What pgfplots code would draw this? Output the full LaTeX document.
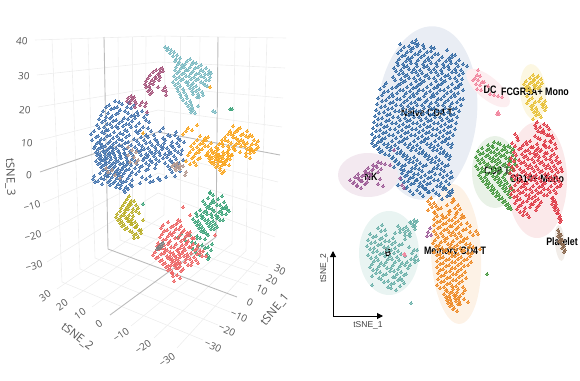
\documentclass[border=0pt]{standalone}
\usepackage{pgfplots}
\pgfplotsset{compat=1.18}
\usepackage{fontspec}
\setmainfont{Liberation Sans}
\newfontfamily\os{Open Sans}
\usetikzlibrary{arrows.meta}
\definecolor{gl}{HTML}{EDEDED}
\definecolor{zl}{HTML}{BBBBBB}
\definecolor{tk}{HTML}{555555}
\pgfplotsset{g/.style={gl,line width=0.6pt},z/.style={zl,line width=0.9pt},
 p/.style={color=#1,only marks,mark=*,mark size=1.05pt,mark options={solid,draw=#1,fill=#1,line width=0pt}}}
\tikzset{tl/.style={font=\os\fontsize{10}{12}\selectfont,text=tk,inner sep=0pt},
 lb/.style={font=\bfseries\fontsize{10.8}{12}\selectfont,text=black,inner sep=0pt,xscale=0.82}}
\newcommand{\elli}[6]{\fill[fill=#1,rotate around={#6:(axis cs:#2,#3)}] (axis cs:#2,#3) ellipse [x radius=#4pt,y radius=#5pt];}
\definecolor{eA}{HTML}{E9EDF4}\definecolor{eB}{HTML}{F3E9F0}\definecolor{eC}{HTML}{E9F4F2}\definecolor{eD}{HTML}{FDF2E6}\definecolor{eE}{HTML}{E9F2E7}\definecolor{eF}{HTML}{FBE9EA}\definecolor{eG}{HTML}{FCF7E2}\definecolor{eH}{HTML}{FDEEF0}\definecolor{eI}{HTML}{F2EDE9}
\definecolor{lBlue}{HTML}{4A78B0}\definecolor{lTeal}{HTML}{7FBCC4}\definecolor{lPur}{HTML}{A85A80}\definecolor{lOr}{HTML}{F9A825}\definecolor{lTan}{HTML}{B59A90}\definecolor{lYel}{HTML}{BCB12C}\definecolor{lGrn}{HTML}{45A880}\definecolor{lRed}{HTML}{EE6A6A}
\definecolor{rBlue}{HTML}{3B70A8}\definecolor{rPur}{HTML}{A0609A}\definecolor{rTeal}{HTML}{6FB3AC}\definecolor{rOr}{HTML}{EE8C2A}\definecolor{rGrn}{HTML}{4A9A43}\definecolor{rRed}{HTML}{E0404C}\definecolor{rYel}{HTML}{E8C23C}\definecolor{rPnk}{HTML}{F288A0}\definecolor{rBrn}{HTML}{8B6A50}
\begin{document}
\begin{tikzpicture}
\path[use as bounding box] (0,0) rectangle (580pt,380pt);
\begin{axis}[at={(0,0)},anchor=south west,scale only axis,width=580pt,height=380pt,xmin=0,xmax=580,ymin=0,ymax=380,y dir=reverse,axis lines=none,clip=false]
\addplot[g] coordinates {(35,40)(158,36)(286,38)};
\addplot[g] coordinates {(37,75)(158,62)(285,68)};
\addplot[g] coordinates {(38,107)(158,87)(283,98)};
\addplot[g] coordinates {(40,140)(158,110)(282,127)};
\addplot[g] coordinates {(43,203)(158,153)(278,182)};
\addplot[g] coordinates {(45,233)(158,173)(276,210)};
\addplot[g] coordinates {(47,262)(158,193)(275,237)};
\addplot[g] coordinates {(146,37)(145,221)};
\addplot[g] coordinates {(132,37)(132,231)};
\addplot[g] coordinates {(118,37)(120,240)};
\addplot[g] coordinates {(88,38)(95,258)};
\addplot[g] coordinates {(71,38)(80,269)};
\addplot[g] coordinates {(52,39)(62,282)};
\addplot[g] coordinates {(165,36)(164,215)};
\addplot[g] coordinates {(180,36)(180,222)};
\addplot[g] coordinates {(200,37)(198,230)};
\addplot[g] coordinates {(235,37)(232,244)};
\addplot[g] coordinates {(250,37)(246,251)};
\addplot[g] coordinates {(267,38)(260,257)};
\addplot[g] coordinates {(57,289)(164,215)};
\addplot[g] coordinates {(73,298)(180,222)};
\addplot[g] coordinates {(92,307)(198,230)};
\addplot[g] coordinates {(131,326)(232,244)};
\addplot[g] coordinates {(154,338)(246,251)};
\addplot[g] coordinates {(177,348)(260,257)};
\addplot[g] coordinates {(268,267)(145,221)};
\addplot[g] coordinates {(260,275)(132,231)};
\addplot[g] coordinates {(248,285)(120,240)};
\addplot[g] coordinates {(230,312)(95,258)};
\addplot[g] coordinates {(218,325)(80,269)};
\addplot[g] coordinates {(203,340)(62,282)};
\addplot[z] coordinates {(40,172)(158,132)(280,155)};
\addplot[z] coordinates {(104,37)(108,249)};
\addplot[z] coordinates {(218,37)(216,237)};
\addplot[z] coordinates {(110,315)(216,237)};
\addplot[z] coordinates {(108,249)(237,297)};
\node[tl,rotate=-5] at (axis cs:22,41) {40};
\node[tl,rotate=-5] at (axis cs:24,76) {30};
\node[tl,rotate=-5] at (axis cs:25,110) {20};
\node[tl,rotate=-5] at (axis cs:27,143) {10};
\node[tl,rotate=-5] at (axis cs:29,175) {0};
\node[tl,rotate=15] at (axis cs:32,206) {−10};
\node[tl,rotate=15] at (axis cs:33,236) {−20};
\node[tl,rotate=15] at (axis cs:34,266) {−30};
\node[tl,rotate=35] at (axis cs:45,296) {30};
\node[tl,rotate=35] at (axis cs:62,305) {20};
\node[tl,rotate=35] at (axis cs:80,314) {10};
\node[tl,rotate=35] at (axis cs:99,324) {0};
\node[tl,rotate=35] at (axis cs:121,335) {−10};
\node[tl,rotate=35] at (axis cs:143,347) {−20};
\node[tl,rotate=35] at (axis cs:167,360) {−30};
\node[tl,rotate=-25] at (axis cs:280,270) {30};
\node[tl,rotate=-25] at (axis cs:272,280) {20};
\node[tl,rotate=-25] at (axis cs:262,290) {10};
\node[tl,rotate=-25] at (axis cs:250,302) {0};
\node[tl,rotate=-25] at (axis cs:239,316) {−10};
\node[tl,rotate=-25] at (axis cs:227,330) {−20};
\node[tl,rotate=-25] at (axis cs:213,346) {−30};
\node[tl,rotate=-88,font=\os\fontsize{11.5}{13}\selectfont] at (axis cs:10,177) {tSNE\_3};
\node[tl,rotate=-38,font=\os\fontsize{11.5}{13}\selectfont] at (axis cs:77,337) {tSNE\_2};
\node[tl,rotate=50,font=\os\fontsize{11.5}{13}\selectfont] at (axis cs:275,310) {tSNE\_1};
% left clusters
\addplot[p=lBlue] table {
115 101
109 105
119 102
129 103
106 107
114 108
122 104
127 107
134 105
103 111
111 109
117 107
125 111
131 108
137 112
108 113
116 114
120 110
128 113
134 115
142 111
147 114
101 115
106 117
112 116
118 113
124 118
131 116
138 115
144 117
99 119
105 120
110 118
116 120
122 121
128 119
135 118
146 120
102 122
107 124
113 121
119 123
126 124
132 121
139 123
149 122
97 125
104 127
110 124
116 126
123 126
129 124
136 126
143 127
99 128
106 130
112 127
118 128
125 130
131 127
140 130
148 128
94 131
102 132
108 130
114 132
120 133
127 131
136 131
143 133
151 131
163 128
176 132
91 134
98 136
104 133
110 135
117 136
123 134
129 135
138 133
146 135
154 135
160 131
168 135
175 135
96 137
101 139
107 136
113 138
119 139
126 137
134 139
141 137
148 137
155 139
163 138
170 136
178 138
92 140
99 142
104 139
110 141
116 142
122 140
128 142
137 141
144 140
150 142
157 141
165 140
172 142
180 140
97 143
102 145
108 143
113 144
119 145
125 143
131 145
139 144
146 143
152 145
158 144
164 143
171 145
177 143
184 142
95 146
100 148
105 146
110 147
116 148
122 146
127 148
135 147
142 146
148 148
155 147
161 146
167 148
173 147
179 146
98 149
103 151
108 149
113 150
118 151
124 149
130 151
137 150
144 149
150 151
156 150
162 149
169 151
175 150
182 150
96 152
100 154
104 152
109 153
114 154
119 152
125 154
131 153
139 152
146 154
152 153
159 152
165 154
171 153
178 152
97 155
101 157
105 155
110 156
115 157
120 155
126 157
133 156
141 155
147 157
154 156
160 155
167 157
174 156
181 154
99 158
103 160
107 158
111 159
116 160
121 158
127 160
132 159
144 158
150 160
156 159
163 158
170 160
176 159
96 161
100 163
105 161
109 162
113 163
118 161
123 163
128 162
135 161
146 163
152 162
159 161
165 163
172 162
183 160
98 164
102 166
106 164
111 165
115 166
120 164
125 166
131 165
137 164
142 166
149 165
156 164
168 166
175 165
179 163
101 167
105 169
109 167
113 168
118 169
123 167
129 169
135 168
140 167
148 169
155 168
170 169
177 167
103 170
107 172
111 170
116 171
120 172
126 170
132 172
139 171
146 170
172 172
180 171
100 173
105 175
110 173
114 174
119 175
124 173
130 175
136 174
94 176
101 178
107 176
112 177
117 178
122 176
128 178
142 177
150 176
158 178
166 177
175 176
93 179
98 181
104 179
110 180
115 181
120 179
126 181
132 180
146 179
153 181
160 180
95 182
102 184
108 182
113 183
118 184
123 182
130 184
140 183
150 182
110 185
116 187
121 185
126 187
132 186
120 188
124 190
128 189
125 192
103 147
106 151
112 152
101 160
104 165
108 155
112 147
116 162
120 157
124 153
128 147
127 164
122 169
117 173
112 169
108 176
121 181
98 153
105 158
100 143
94 148
141 150
148 155
155 153
163 147
169 154
143 160
};
\addplot[p=lTeal] table {
165 47
168 48
167 50
171 50
170 53
174 52
173 56
177 55
176 59
180 58
175 61
179 62
190 59
193 62
178 64
182 65
187 61
192 64
196 63
176 67
181 68
185 64
190 67
195 68
201 65
175 70
179 71
184 67
188 70
193 71
198 67
203 71
206 68
177 73
182 74
186 70
191 73
196 74
201 70
205 74
209 71
174 76
179 77
184 73
189 76
194 77
199 73
204 77
208 74
211 73
176 79
181 80
186 76
191 79
196 80
201 76
206 80
210 77
173 82
178 83
183 79
188 82
193 83
198 79
203 83
209 80
175 85
180 86
186 82
191 85
196 86
201 82
207 86
177 88
183 89
188 85
193 88
199 89
205 85
178 91
184 92
190 88
196 91
202 92
180 94
186 95
192 91
198 94
203 95
181 97
187 98
193 94
199 97
183 100
190 101
197 97
186 103
191 104
188 106
192 107
190 109
193 110
198 106
191 112
195 113
213 111
215 112
};
\addplot[p=lPur] table {
162 68
160 69
156 70
160 72
153 72
158 74
163 71
150 75
155 77
159 75
148 78
152 80
156 78
160 77
146 81
150 83
154 81
159 80
145 84
149 86
153 84
146 87
150 89
158 87
165 87
148 91
152 92
163 90
166 91
150 94
166 95
131 96
133 98
128 98
131 100
134 97
127 101
130 103
135 101
142 102
136 103
146 103
140 105
135 107
145 106
147 112
};
\addplot[p=lOr] table {
197 125
188 128
192 130
233 126
238 129
186 131
230 131
235 132
240 128
247 131
183 134
228 134
233 135
237 131
243 134
250 135
200 136
205 138
225 137
231 134
236 138
241 135
246 136
252 136
197 140
203 141
208 137
222 140
228 141
233 137
238 140
243 141
248 137
254 140
194 143
200 144
206 140
211 143
219 144
225 140
231 143
236 144
241 140
247 143
252 144
258 141
191 146
197 147
203 143
208 146
216 147
222 143
228 146
233 147
239 143
245 146
250 147
256 144
193 149
199 150
205 146
211 149
217 150
223 146
229 149
235 150
241 146
247 149
252 150
258 147
190 152
196 153
202 149
208 152
213 153
218 149
223 152
228 153
234 149
240 152
246 153
251 150
256 149
188 155
194 156
199 152
206 155
210 156
214 152
218 155
222 156
227 152
232 155
246 156
250 153
254 152
192 158
198 159
208 155
212 158
216 159
219 155
223 158
227 159
231 155
250 158
186 161
194 162
200 158
210 161
214 162
217 158
221 161
224 162
228 158
190 164
196 165
214 164
218 165
221 161
225 164
229 165
216 167
220 168
224 164
220 170
224 171
222 173
143 133
210 87
212 151
216 153
220 157
224 154
226 161
212 163
219 160
230 159
215 156
222 165
218 162
209 158
228 156
234 146
244 143
250 150
};
\addplot[p=lTan] table {
177 163
174 164
180 165
176 165
172 166
178 167
175 168
180 169
183 166
176 170
186 172
185 175
128 147
132 150
136 152
128 155
134 157
138 160
130 162
136 163
106 168
112 170
108 172
115 175
120 178
};
\addplot[p=lYel] table {
129 196
127 199
131 201
125 202
129 204
134 201
123 205
127 207
131 204
136 205
121 208
125 210
129 206
133 209
138 208
120 211
124 213
128 209
132 212
136 211
117 214
121 216
125 212
129 215
133 216
139 213
116 217
120 219
124 215
128 218
132 219
118 220
122 222
126 218
130 221
135 222
143 220
120 223
124 225
128 221
132 224
137 225
122 226
127 228
131 224
136 227
125 229
130 231
135 227
139 230
132 232
136 234
141 230
134 235
138 237
141 233
134 238
};
\addplot[p=lGrn] table {
210 193
213 195
208 198
213 200
222 196
203 201
211 203
218 199
224 202
205 204
209 206
214 202
220 205
226 206
207 207
212 209
217 205
222 208
227 209
200 210
204 212
209 208
214 211
219 212
224 208
229 211
196 213
201 215
206 211
211 214
216 215
221 211
226 214
197 216
202 218
207 214
212 217
217 218
222 214
193 219
198 221
203 217
208 220
213 221
218 217
223 220
195 222
200 224
205 220
210 223
215 224
220 220
197 225
202 227
207 223
212 226
217 227
199 228
204 230
209 226
214 229
201 231
206 233
211 229
181 234
197 236
203 232
208 235
178 237
184 239
190 235
200 238
205 239
185 240
192 242
197 238
195 243
202 245
198 246
205 248
212 244
193 249
203 251
208 247
196 252
207 254
211 250
200 255
209 257
208 259
143 204
210 192
230 109
232 109
};
\addplot[p=lRed] table {
178 220
168 222
176 224
180 221
163 225
171 227
177 223
181 226
161 228
167 230
173 226
179 229
184 230
164 231
170 233
176 229
182 232
187 233
162 234
168 236
174 232
180 235
186 236
190 232
160 237
166 239
172 235
178 238
184 239
189 235
194 238
163 240
169 242
175 238
181 241
187 242
192 238
158 243
164 245
170 241
176 244
182 245
188 241
193 244
198 245
157 246
162 248
168 244
174 247
180 248
186 244
191 247
197 248
159 249
165 251
171 247
177 250
183 251
189 247
195 250
200 251
155 252
161 254
167 250
173 253
179 254
185 250
191 253
197 254
203 251
153 255
158 257
164 253
170 256
176 257
182 253
188 256
194 257
200 253
206 256
156 258
162 260
167 256
172 259
178 260
184 256
190 259
196 260
202 256
160 261
165 263
170 259
175 262
180 263
186 259
192 262
198 263
163 264
168 266
172 262
176 265
180 266
185 262
191 265
166 267
170 269
174 265
178 268
183 269
188 265
168 270
172 272
176 268
181 271
172 273
177 275
173 276
180 278
174 281
183 207
190 215
215 235
170 252
174 255
178 251
168 258
176 259
173 261
180 257
165 249
184 248
187 254
171 265
178 263
};
\addplot[p=gray] table {
157 249
159 246
161 244
163 243
160 248
158 247
162 246
};
% ellipses
\elli{eA}{427}{113}{50}{87}{-5}
\elli{eB}{368}{175}{30}{22}{0}
\elli{eC}{389}{253}{30}{42}{0}
\elli{eD}{456}{254}{25}{70}{3}
\elli{eE}{495}{172}{23}{36}{0}
\elli{eF}{537}{180}{30}{58}{0}
\elli{eG}{533}{92}{13}{28}{5}
\elli{eH}{488}{88}{27}{11}{-40}
\elli{eI}{560}{243}{5}{18}{5}
% right clusters
\addplot[p=rBlue] table {
416 40
412 42
418 44
400 44
409 46
415 43
423 45
404 47
411 49
417 46
424 48
431 47
401 50
407 52
413 48
420 51
427 52
434 48
447 50
398 53
405 55
411 51
418 54
424 55
431 51
438 54
452 55
402 56
408 58
415 54
421 57
428 58
435 54
442 57
449 58
455 55
399 59
406 61
412 57
418 60
425 61
432 57
439 60
446 61
452 57
459 60
397 62
403 64
410 60
416 63
423 64
429 60
436 63
443 64
450 60
456 63
463 64
398 65
404 67
411 63
417 66
424 67
431 63
437 66
444 67
451 63
458 66
394 68
401 70
407 66
414 69
420 70
427 66
434 69
441 70
448 66
455 69
461 70
467 66
396 71
403 73
409 69
416 72
422 73
429 69
436 72
442 73
449 69
456 72
463 73
399 74
405 76
412 72
418 75
425 76
431 72
438 75
445 76
452 72
459 75
393 77
401 79
407 75
414 78
420 79
427 75
434 78
441 79
448 75
455 78
462 79
395 80
403 82
409 78
416 81
422 82
429 78
436 81
443 82
450 78
457 81
386 83
398 85
405 81
411 84
418 85
424 81
431 84
438 85
445 81
452 84
459 85
384 86
392 88
400 84
407 87
413 88
420 84
427 87
434 88
441 84
448 87
455 88
461 84
380 89
388 91
396 87
403 90
410 91
416 87
423 90
430 91
437 87
444 90
451 91
458 87
384 92
392 94
400 90
406 93
413 94
419 90
426 93
433 94
440 90
447 93
454 94
463 90
382 95
389 97
397 93
404 96
410 97
417 93
424 96
431 97
437 93
444 96
451 97
458 93
378 98
386 100
393 96
400 99
407 100
414 96
420 99
427 100
434 96
441 99
448 100
455 96
463 99
382 101
390 103
397 99
404 102
411 103
418 99
425 102
431 103
438 99
445 102
452 103
460 99
377 104
385 106
393 102
401 105
408 106
415 102
422 105
429 106
436 102
443 105
450 106
457 102
381 107
388 109
396 105
403 108
410 109
417 105
424 108
431 109
438 105
445 108
453 109
461 105
376 110
384 112
392 108
399 111
406 112
413 108
420 111
427 112
434 108
441 111
448 112
456 108
379 113
387 115
395 111
402 114
409 115
416 111
423 114
430 115
437 111
444 114
451 115
459 111
375 116
382 118
390 114
398 117
405 118
412 114
419 117
426 118
433 114
440 117
447 118
454 114
378 119
386 121
393 117
400 120
407 121
414 117
421 120
428 121
435 117
442 120
449 121
457 117
374 122
381 124
389 120
396 123
403 124
410 120
417 123
424 124
431 120
438 123
445 124
452 120
377 125
384 127
392 123
399 126
406 127
413 123
420 126
427 127
434 123
441 126
448 127
456 123
373 128
380 130
387 126
395 129
402 130
409 126
416 129
423 130
430 126
437 129
444 130
451 126
376 131
383 133
390 129
398 132
405 133
412 129
419 132
426 133
433 129
440 132
447 133
455 129
372 134
379 136
386 132
393 135
401 136
408 132
415 135
422 136
429 132
436 135
443 136
450 132
375 137
382 139
389 135
396 138
404 139
411 135
418 138
425 139
432 135
439 138
446 139
453 135
373 140
378 142
385 138
392 141
399 142
407 138
414 141
421 142
428 138
435 141
442 142
449 138
372 143
376 145
381 141
388 144
395 145
402 141
410 144
417 145
424 141
431 144
438 145
445 141
452 144
374 146
379 148
384 144
391 147
398 148
405 144
413 147
420 148
427 144
434 147
441 148
448 144
378 149
382 151
387 147
394 150
401 151
408 147
416 150
423 151
430 147
437 150
444 151
451 147
380 152
385 154
390 150
397 153
404 154
411 150
419 153
426 154
433 150
440 153
447 154
389 155
393 157
400 153
407 156
414 157
422 153
429 156
436 157
443 153
450 156
392 158
396 160
403 156
410 159
417 160
425 156
432 159
439 160
446 156
395 161
399 163
406 159
413 162
420 163
428 159
435 162
442 163
449 159
398 164
402 166
409 162
416 165
423 166
431 162
438 165
445 166
394 167
401 169
405 165
412 168
419 169
426 165
434 168
441 169
448 165
404 170
408 172
415 168
422 171
429 172
437 168
444 171
451 172
402 173
407 175
411 171
418 174
425 175
432 171
440 174
447 175
405 176
410 178
414 174
421 177
428 178
435 174
443 177
450 178
401 179
408 181
413 177
417 180
424 181
431 177
438 180
446 181
452 177
404 182
411 184
416 180
420 183
427 184
434 180
441 183
449 184
398 185
407 187
414 183
419 186
423 187
430 183
437 186
444 187
406 188
417 190
422 186
426 189
433 190
440 186
446 189
452 190
410 191
420 193
425 189
429 192
436 193
443 189
449 192
413 194
423 196
428 192
439 195
447 196
452 192
431 198
442 199
450 195
};
\addplot[p=rOr] table {
431 198
453 199
428 201
434 203
454 200
430 204
436 206
452 202
458 205
432 207
438 209
447 205
455 208
460 209
428 210
434 212
441 208
449 211
457 212
435 213
442 215
450 211
456 214
462 215
437 216
443 218
449 214
455 217
461 218
434 219
440 221
446 217
452 220
458 221
464 217
437 222
443 224
449 220
455 223
461 224
434 225
440 227
446 223
452 226
458 227
467 223
438 228
444 230
450 226
456 229
463 230
470 226
434 231
441 233
447 229
453 232
459 233
466 229
476 231
436 234
443 236
449 232
455 235
461 236
470 232
478 234
438 237
445 239
451 235
457 238
464 239
473 235
435 240
441 242
447 238
453 241
460 242
467 238
433 243
439 245
445 241
451 244
457 245
463 241
470 244
436 246
442 248
448 244
454 247
460 248
466 244
473 247
438 249
444 251
450 247
456 250
462 251
469 247
480 249
434 252
440 254
446 250
452 253
458 254
464 250
472 253
437 255
443 257
449 253
455 256
461 257
468 253
440 258
446 260
452 256
458 259
464 260
470 256
437 261
443 263
449 259
455 262
461 263
467 259
440 264
446 266
452 262
458 265
464 266
471 262
437 267
443 269
449 265
455 268
461 269
468 265
440 270
446 272
452 268
458 271
465 272
438 273
444 275
450 271
456 274
462 275
441 276
447 278
453 274
459 277
466 278
438 279
444 281
450 277
456 280
462 281
441 282
447 284
453 280
459 283
437 285
444 287
450 283
456 286
463 287
440 288
446 290
452 286
458 289
465 290
447 291
450 293
453 289
457 292
463 293
444 294
449 296
452 292
456 295
460 296
446 297
450 299
454 295
458 298
464 299
447 300
451 302
455 298
459 301
468 302
448 303
452 305
456 301
460 304
450 306
454 308
458 304
453 309
457 311
};
\addplot[p=rTeal] table {
414 220
416 222
410 222
413 224
417 221
382 225
406 227
411 223
415 226
378 228
385 230
398 226
403 229
408 230
413 226
381 231
395 233
400 229
405 232
410 233
415 229
370 234
376 236
400 232
405 235
410 236
373 237
380 239
386 235
393 238
405 239
409 235
368 240
375 242
382 238
389 241
395 242
371 243
378 245
385 241
392 244
399 245
367 246
374 248
381 244
388 247
395 248
402 244
370 249
377 251
384 247
391 250
398 251
409 247
414 250
373 252
380 254
387 250
394 253
401 254
417 250
368 255
376 257
383 253
390 256
397 257
412 253
416 256
371 258
378 260
385 256
392 259
399 260
405 256
414 259
418 260
374 261
381 263
388 259
395 262
402 263
411 259
415 262
372 264
379 266
386 262
393 265
400 266
407 262
410 265
370 267
377 269
384 265
391 268
398 269
405 265
373 270
380 272
387 268
394 271
401 272
408 268
376 273
383 275
390 271
397 274
404 275
372 276
379 278
386 274
393 277
400 278
406 274
381 279
388 281
395 277
402 280
384 282
391 284
398 280
404 283
372 285
388 287
394 283
400 286
391 288
396 290
411 303
};
\addplot[p=rPur] table {
378 162
381 163
373 165
377 167
385 164
390 165
368 168
372 170
376 166
381 169
365 171
369 173
373 169
378 172
358 174
362 176
366 172
371 175
355 177
359 179
364 175
368 178
350 180
354 182
358 178
362 181
367 182
380 179
353 183
357 185
361 181
365 184
378 184
357 186
361 188
365 184
383 186
394 150
400 178
402 185
404 188
430 228
428 232
431 235
427 236
};
\addplot[p=rGrn] table {
494 142
500 144
488 145
493 147
498 143
504 146
510 147
482 148
487 150
492 146
497 149
502 150
508 146
513 149
478 151
483 153
489 149
494 152
499 153
505 149
511 152
480 154
486 156
491 152
496 155
501 156
507 152
513 155
476 157
482 159
488 155
493 158
498 159
504 155
509 158
515 159
478 160
484 162
490 158
495 161
500 162
506 158
511 161
480 163
486 165
492 161
497 164
503 165
509 161
515 164
476 166
482 168
488 164
494 167
499 168
505 164
511 167
478 169
484 171
490 167
496 170
501 171
507 167
513 170
481 172
487 174
493 170
499 173
505 174
510 170
479 175
485 177
491 173
497 176
503 177
509 173
481 178
487 180
493 176
499 179
505 180
483 181
489 183
495 179
501 182
507 183
512 179
486 184
492 186
498 182
504 185
510 186
488 187
494 189
500 185
506 188
512 189
491 190
497 192
503 188
509 191
493 193
499 195
505 191
511 194
496 196
502 198
508 194
499 199
505 201
510 197
503 202
508 204
506 205
510 207
508 208
511 209
487 274
};
\addplot[p=rRed] table {
537 122
535 125
540 127
544 124
536 128
543 130
547 126
538 131
544 133
549 129
515 134
535 136
541 132
547 135
552 136
517 137
540 139
549 135
553 138
518 140
526 142
538 138
545 141
551 142
512 143
523 145
530 141
537 144
544 145
550 141
555 144
515 146
521 148
527 144
533 147
538 148
544 144
549 147
556 148
519 149
525 151
531 147
536 150
540 151
546 147
552 150
514 152
522 154
528 150
534 153
537 154
541 150
547 153
554 154
516 155
524 157
530 153
535 156
539 157
545 153
551 156
557 157
511 158
519 160
526 156
532 159
538 160
544 156
550 159
556 160
514 161
521 163
528 159
534 162
540 163
546 159
552 162
558 163
509 164
517 166
524 162
530 165
536 166
542 162
548 165
554 166
560 162
512 167
520 169
526 165
532 168
538 169
544 165
550 168
556 169
514 170
522 172
528 168
534 171
540 172
546 168
552 171
558 172
561 168
510 173
517 175
524 171
530 174
536 175
542 171
548 174
555 175
562 171
513 176
520 178
526 174
533 177
539 178
545 174
551 177
557 178
515 179
522 181
528 177
535 180
541 181
547 177
553 180
559 181
518 182
524 184
531 180
537 183
543 184
549 180
555 183
561 184
515 185
521 187
527 183
533 186
539 187
545 183
551 186
557 187
511 188
518 190
524 186
530 189
536 190
542 186
548 189
554 190
560 186
514 191
520 193
526 189
532 192
538 193
544 189
550 192
556 193
511 194
517 196
523 192
529 195
535 196
541 192
547 195
514 197
520 199
526 195
532 198
538 199
544 195
553 198
517 200
523 202
529 198
535 201
541 202
552 198
555 201
515 203
521 205
527 201
533 204
539 205
553 201
556 204
519 206
525 208
531 204
537 207
552 204
556 207
517 209
524 211
530 207
536 210
554 207
558 210
520 212
527 214
555 210
558 213
523 215
529 217
557 213
560 216
559 218
561 220
560 222
};
\addplot[p=rYel] table {
533 75
537 77
530 78
534 80
538 76
541 79
526 81
530 83
534 79
538 82
542 83
524 84
528 86
532 82
536 85
540 86
526 87
530 89
534 85
538 88
527 90
531 92
535 88
527 96
532 98
529 100
535 102
541 98
545 101
527 103
533 105
539 101
544 104
531 106
536 108
542 104
546 107
532 109
537 111
543 107
534 112
539 114
545 110
536 115
541 117
533 119
};
\addplot[p=rPnk] table {
478 70
477 75
480 76
475 78
473 80
478 80
482 82
476 84
480 85
484 82
477 89
481 90
488 86
490 94
494 95
498 96
502 97
497 114
499 114
498 112
404 254
405 255
};
\addplot[p=rBrn] table {
558 230
559 233
561 235
558 236
560 238
562 240
561 243
563 245
562 248
564 246
565 250
564 252
559 241
};
\addplot[black,line width=1pt,-{Triangle[length=6pt,width=6pt]}] coordinates {(333,316)(333,251)};
\addplot[black,line width=1pt,-{Triangle[length=6pt,width=6pt]}] coordinates {(333,316)(383,316)};
\node[rotate=90,font=\fontsize{8.5}{10}\selectfont,text=black!75,inner sep=0pt] at (axis cs:324,268) {tSNE\_2};
\node[font=\fontsize{8.5}{10}\selectfont,text=black!75,inner sep=0pt] at (axis cs:368,325) {tSNE\_1};
\node[lb] at (axis cs:427,113) {Naive CD4 T};
\node[lb] at (axis cs:490,90) {DC};
\node[lb] at (axis cs:535,92) {FCGR3A+ Mono};
\node[lb] at (axis cs:497,171) {CD8 T};
\node[lb] at (axis cs:537,179) {CD14+ Mono};
\node[lb] at (axis cs:371,177) {NK};
\node[lb] at (axis cs:388,253) {B};
\node[lb] at (axis cs:455,252) {Memory CD4 T};
\node[lb] at (axis cs:562,242) {Platelet};
\end{axis}
\end{tikzpicture}
\end{document}
